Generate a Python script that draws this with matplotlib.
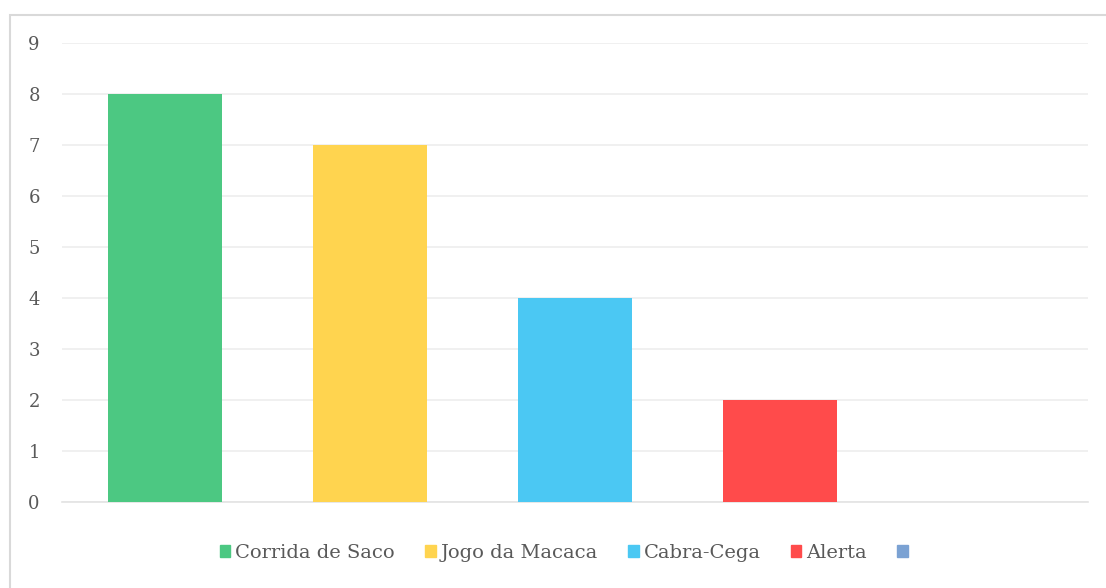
import matplotlib.pyplot as plt
from matplotlib.patches import Rectangle, Patch

# data
categories = ["Corrida de Saco", "Jogo da Macaca", "Cabra-Cega", "Alerta", ""]
values = [8, 7, 4, 2, 0]
colors = ["#4cc882", "#ffd44f", "#4bc8f3", "#ff4b4b", "#7ba2d3"]
yticks = list(range(0, 10))

plt.rcParams['font.family'] = ['DejaVu Serif']

fig = plt.figure(figsize=(11.06, 5.88), dpi=100)
ax = fig.add_axes([0.0561, 0.1463, 0.9276, 0.7806])

# outer chart border like the spreadsheet frame
fig.patches.append(Rectangle((9.5 / 1106, -0.05), 1.2, 0.05 + (588 - 15) / 588,
                             transform=fig.transFigure, fill=False,
                             edgecolor="#d9d9d9", linewidth=1.5))

x = list(range(len(categories)))
bars = ax.bar(x, values, width=0.556, color=colors, zorder=3)

ax.set_xlim(-0.5, len(categories) - 0.5)
ax.set_ylim(0, 9)
ax.set_yticks(yticks)
ax.set_xticks([])
ax.grid(axis='y', color="#eeeeee", linewidth=1.2, zorder=0)
for s in ['top', 'right', 'left']:
    ax.spines[s].set_visible(False)
ax.spines['bottom'].set_color("#e3e3e3")
ax.spines['bottom'].set_linewidth(1.2)
ax.tick_params(axis='y', length=0, pad=16, labelsize=13, labelcolor="#595959")

handles = [Patch(color=c) for c in colors]
fig.legend(handles, categories, loc='center', bbox_to_anchor=(566 / 1106, 1 - 553 / 588),
           ncol=5, frameon=False, fontsize=14, labelcolor="#595959",
           handlelength=0.55, handleheight=0.55, handletextpad=0.25, columnspacing=1.55)

fig.savefig("out.png", dpi=100)
